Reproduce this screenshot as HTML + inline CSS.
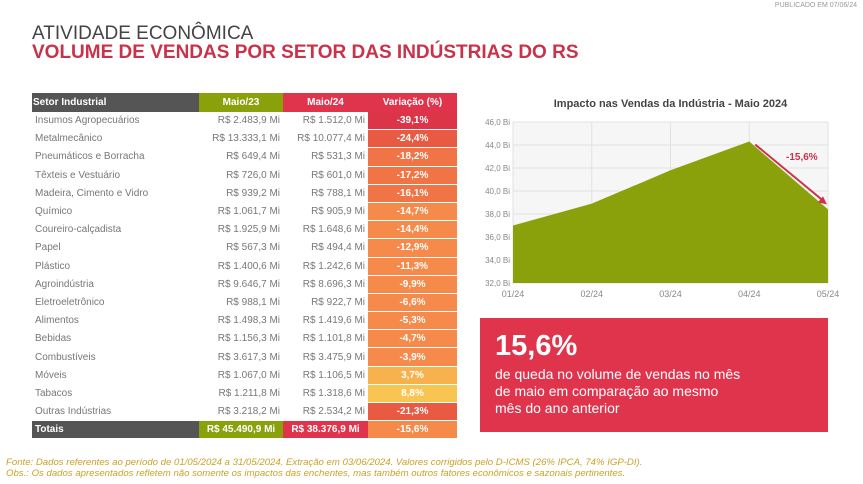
<!DOCTYPE html>
<html><head><meta charset="utf-8">
<style>
body{margin:0;width:863px;height:484px;background:#fff;font-family:"Liberation Sans",sans-serif;position:relative;overflow:hidden}
.abs{position:absolute}
table{border-collapse:separate;border-spacing:0;position:absolute;left:32px;top:93px;width:425px;font-size:10px;color:#777}
td{height:17.2px;padding:0 3px;border-bottom:1px solid #fff;white-space:nowrap}
.n{text-align:right}
.v{text-align:center;color:#fff;font-weight:bold}
th{height:17px;color:#fff;font-size:10px;font-weight:bold;text-align:center}
</style></head><body>
<div class="abs" style="right:6px;top:2px;font-size:7px;color:#999">PUBLICADO EM 07/06/24</div>
<div class="abs" style="left:32px;top:23px;font-size:19px;color:#444">ATIVIDADE ECONÔMICA</div>
<div class="abs" style="left:32px;top:42px;font-size:19px;color:#c8334a;font-weight:bold">VOLUME DE VENDAS POR SETOR DAS INDÚSTRIAS DO RS</div>
<table><thead><tr>
<th style="background:#555;text-align:left;width:165px">Setor Industrial</th>
<th style="background:#8ba10c;width:82px">Maio/23</th>
<th style="background:#e0344c;width:83px">Maio/24</th>
<th style="background:#e0344c">Variação (%)</th></tr></thead>
<tbody id="tb"></tbody></table>
<svg class="abs" style="left:0;top:0" width="863" height="484" id="chart"></svg>
<div class="abs" style="left:480px;top:318px;width:348px;height:114px;background:#e0344c;color:#fff">
<div style="position:absolute;left:15px;top:12px;font-size:29px;font-weight:bold">15,6%</div>
<div style="position:absolute;left:15px;top:48px;font-size:14px;line-height:17px">de queda no volume de vendas no mês<br>de maio em comparação ao mesmo<br>mês do ano anterior</div></div>
<div class="abs" style="left:6px;top:457px;font-size:9.6px;color:#c9a227;font-style:italic;line-height:11px">Fonte: Dados referentes ao período de 01/05/2024 a 31/05/2024. Extração em 03/06/2024. Valores corrigidos pelo D-ICMS (26% IPCA, 74% IGP-DI).<br>Obs.: Os dados apresentados refletem não somente os impactos das enchentes, mas também outros fatores econômicos e sazonais pertinentes.</div>
<script>
const sectors=["Insumos Agropecuários","Metalmecânico","Pneumáticos e Borracha","Têxteis e Vestuário","Madeira, Cimento e Vidro","Químico","Coureiro-calçadista","Papel","Plástico","Agroindústria","Eletroeletrônico","Alimentos","Bebidas","Combustíveis","Móveis","Tabacos","Outras Indústrias"];
const may23=["R$ 2.483,9 Mi","R$ 13.333,1 Mi","R$ 649,4 Mi","R$ 726,0 Mi","R$ 939,2 Mi","R$ 1.061,7 Mi","R$ 1.925,9 Mi","R$ 567,3 Mi","R$ 1.400,6 Mi","R$ 9.646,7 Mi","R$ 988,1 Mi","R$ 1.498,3 Mi","R$ 1.156,3 Mi","R$ 3.617,3 Mi","R$ 1.067,0 Mi","R$ 1.211,8 Mi","R$ 3.218,2 Mi"];
const may24=["R$ 1.512,0 Mi","R$ 10.077,4 Mi","R$ 531,3 Mi","R$ 601,0 Mi","R$ 788,1 Mi","R$ 905,9 Mi","R$ 1.648,6 Mi","R$ 494,4 Mi","R$ 1.242,6 Mi","R$ 8.696,3 Mi","R$ 922,7 Mi","R$ 1.419,6 Mi","R$ 1.101,8 Mi","R$ 3.475,9 Mi","R$ 1.106,5 Mi","R$ 1.318,6 Mi","R$ 2.534,2 Mi"];
const variation=[-39.1,-24.4,-18.2,-17.2,-16.1,-14.7,-14.4,-12.9,-11.3,-9.9,-6.6,-5.3,-4.7,-3.9,3.7,8.8,-21.3];
function vcol(v){if(v<=-30)return"#dc3548";if(v<=-20)return"#e85a42";if(v<=-15)return"#f07445";if(v<0)return"#f58a4a";if(v<5)return"#f7b24e";return"#f8c552";}
const tb=document.getElementById('tb');
sectors.forEach((s,i)=>{const tr=document.createElement('tr');


tr.innerHTML=`<td>${s}</td><td class="n">${may23[i]}</td><td class="n">${may24[i]}</td><td class="v" style="background:${vcol(variation[i])}">${variation[i].toFixed(1).replace('.',',')}%</td>`;
tb.appendChild(tr);});
const tr=document.createElement('tr');


tr.innerHTML=`<td style="background:#555;color:#fff;font-weight:bold">Totais</td><td class="v" style="background:#8ba10c">R$ 45.490,9 Mi</td><td class="v" style="background:#e0344c">R$ 38.376,9 Mi</td><td class="v" style="background:#f58a4a">-15,6%</td>`;
tb.appendChild(tr);

const months=["01/24","02/24","03/24","04/24","05/24"];
const sales=[37.0,38.9,41.8,44.3,38.4];
const yTicks=[32,34,36,38,40,42,44,46];
const NS="http://www.w3.org/2000/svg";const svg=document.getElementById('chart');
const x0=513,x1=828,yT=122,yB=283,ymin=32,ymax=46;
const X=i=>x0+i*(x1-x0)/(months.length-1);
const Y=v=>yB-(v-ymin)/(ymax-ymin)*(yB-yT);
function el(t,a){const e=document.createElementNS(NS,t);for(const k in a)e.setAttribute(k,a[k]);svg.appendChild(e);return e;}
let t=el('text',{x:(x0+x1)/2,y:107,'text-anchor':'middle','font-size':'11','font-weight':'bold',fill:'#444'});t.textContent="Impacto nas Vendas da Indústria - Maio 2024";


el('rect',{x:x0,y:yT,width:x1-x0,height:yB-yT,fill:'#f6f6f6'});
yTicks.forEach(v=>{el('line',{x1:x0,x2:x1,y1:Y(v),y2:Y(v),stroke:'#e2e2e2'});
const l=el('text',{x:x0-3,y:Y(v)+3,'text-anchor':'end','font-size':'8',fill:'#888'});l.textContent=v.toFixed(1).replace('.',',')+' Bi';

});
months.forEach((m,i)=>{el('line',{x1:X(i),x2:X(i),y1:yT,y2:yB,stroke:'#e2e2e2'});
const l=el('text',{x:X(i),y:yB+14,'text-anchor':'middle','font-size':'9',fill:'#888'});l.textContent=m;

});
let d=`M${X(0)},${yB}`;sales.forEach((v,i)=>d+=` L${X(i)},${Y(v)}`);d+=` L${X(sales.length-1)},${yB}Z`;
const a=el('path',{d,fill:'#8ba10c'});


const n=sales.length-1;
const ar=el('line',{x1:X(n-1)+6,y1:Y(sales[n-1])+3,x2:X(n)-4,y2:Y(sales[n])-8,stroke:'#d0304a','stroke-width':2});


el('path',{d:`M${X(n)-1},${Y(sales[n])-5} l-9,-2 l5,-6Z`,fill:'#d0304a'});
const lb=el('text',{x:X(n)-42,y:Y(44)+15,'font-size':'10','font-weight':'bold',fill:'#d0304a'});lb.textContent="-15,6%";


</script></body></html>
